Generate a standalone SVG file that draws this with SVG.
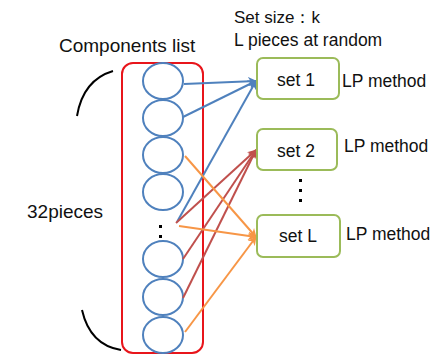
<svg xmlns="http://www.w3.org/2000/svg" width="432" height="354" viewBox="0 0 432 354">
<defs>
<style>
text{font-family:"Liberation Sans",Arial,sans-serif;fill:#111;}
.c{fill:#fff;stroke:#4F81BD;stroke-width:2;}
.box{fill:#fff;stroke:#9BBB59;stroke-width:2;}
.b{stroke:#4F81BD;stroke-width:2;fill:none;}
.r{stroke:#C0504D;stroke-width:2;fill:none;}
.o{stroke:#F79646;stroke-width:2;fill:none;}
.arc{stroke:#000;stroke-width:2;fill:none;}
</style>
<marker id="ab" viewBox="0 0 10 10" refX="9" refY="5" markerWidth="4.5" markerHeight="4.5" orient="auto"><path d="M0,0L10,5L0,10L3,5z" fill="#4F81BD"/></marker>
<marker id="ar" viewBox="0 0 10 10" refX="9" refY="5" markerWidth="4.5" markerHeight="4.5" orient="auto"><path d="M0,0L10,5L0,10L3,5z" fill="#C0504D"/></marker>
<marker id="ao" viewBox="0 0 10 10" refX="9" refY="5" markerWidth="4.5" markerHeight="4.5" orient="auto"><path d="M0,0L10,5L0,10L3,5z" fill="#F79646"/></marker>
</defs>
<rect width="432" height="354" fill="#fff"/>
<g id="components">
<rect x="122" y="63" width="81" height="290" rx="11" fill="none" stroke="#E8151B" stroke-width="2"/>
<ellipse class="c" cx="163" cy="81" rx="20" ry="18"/>
<ellipse class="c" cx="163" cy="118" rx="20" ry="18"/>
<ellipse class="c" cx="163" cy="155" rx="20" ry="18"/>
<ellipse class="c" cx="163" cy="192" rx="20" ry="18"/>
<ellipse class="c" cx="163" cy="259" rx="20" ry="18"/>
<ellipse class="c" cx="163" cy="297" rx="20" ry="18"/>
<ellipse class="c" cx="163" cy="335" rx="20" ry="18"/>
<rect x="159" y="225" width="3" height="3" fill="#000"/>
<rect x="159" y="235" width="3" height="3" fill="#000"/>
<text x="59" y="52" font-size="19">Components list</text>
</g>
<g id="brace">
<path class="arc" d="M113,71 Q83,80 77,116"/>
<path class="arc" d="M82,310 Q90,345 121,350"/>
<text x="27" y="218" font-size="19">32pieces</text>
</g>
<g id="header">
<text x="234" y="23" font-size="17">Set size：k</text>
<text x="234" y="46" font-size="17.5">L pieces at random</text>
</g>
<g id="connectors">
<line class="b" x1="184" y1="84" x2="256" y2="81" marker-end="url(#ab)"/>
<line class="b" x1="183" y1="117" x2="256" y2="81" marker-end="url(#ab)"/>
<line class="b" x1="177" y1="222" x2="256" y2="81" marker-end="url(#ab)"/>
<line class="r" x1="176" y1="223" x2="256" y2="150" marker-end="url(#ar)"/>
<line class="r" x1="183" y1="259" x2="256" y2="150" marker-end="url(#ar)"/>
<line class="r" x1="183" y1="298" x2="256" y2="150" marker-end="url(#ar)"/>
<line class="o" x1="185" y1="156" x2="256" y2="237" marker-end="url(#ao)"/>
<line class="o" x1="179" y1="226" x2="256" y2="237" marker-end="url(#ao)"/>
<line class="o" x1="185" y1="332" x2="256" y2="237" marker-end="url(#ao)"/>
</g>
<g id="set1">
<rect class="box" x="257" y="58" width="82" height="41" rx="6"/>
<text x="296" y="86" font-size="17.5" text-anchor="middle">set 1</text>
<text x="342" y="87" font-size="17.5">LP method</text>
</g>
<g id="set2">
<rect class="box" x="257" y="129" width="80" height="41" rx="6"/>
<text x="296" y="157" font-size="17.5" text-anchor="middle">set 2</text>
<text x="344" y="152" font-size="17.5">LP method</text>
</g>
<g id="vdots">
<rect x="299" y="179" width="3" height="3" fill="#000"/>
<rect x="299" y="189" width="3" height="3" fill="#000"/>
<rect x="299" y="199" width="3" height="3" fill="#000"/>
</g>
<g id="setL">
<rect class="box" x="257" y="215" width="83" height="42" rx="6"/>
<text x="298" y="242" font-size="17.5" text-anchor="middle">set L</text>
<text x="346" y="240" font-size="17.5">LP method</text>
</g>
</svg>
